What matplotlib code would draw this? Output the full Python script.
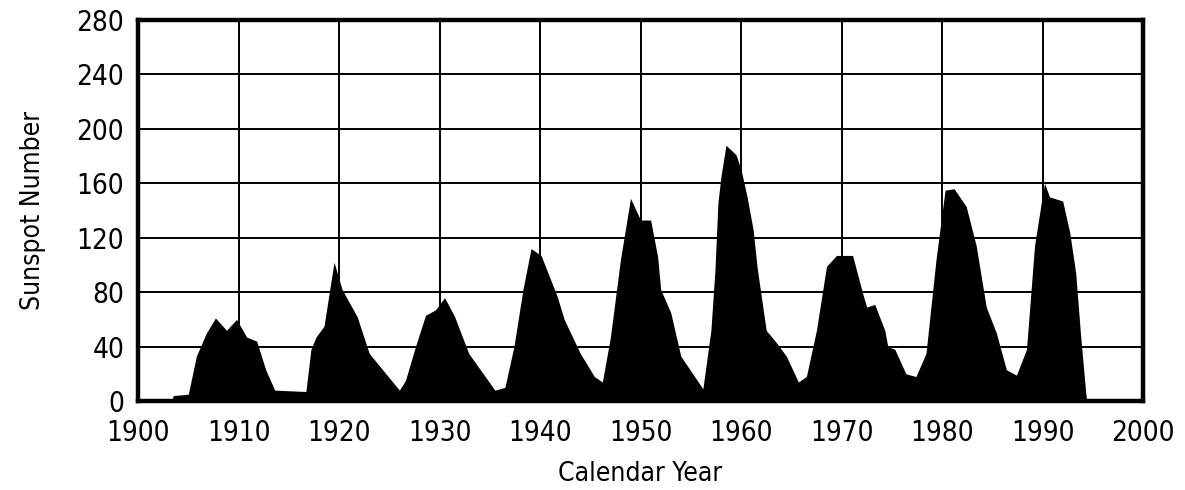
import matplotlib
matplotlib.use("Agg")
import matplotlib.pyplot as plt
from matplotlib import font_manager

years = [1900.0, 1903.4, 1903.5, 1905.0, 1905.8, 1906.8, 1907.7, 1908.8, 1909.8, 1910.8,
         1911.8, 1912.7, 1913.6, 1916.7, 1917.2, 1917.7, 1918.5, 1919.5, 1920.3, 1921.8,
         1923.0, 1926.0, 1926.6, 1927.6, 1928.6, 1929.6, 1930.5, 1931.5, 1932.9, 1935.5,
         1936.5, 1937.4, 1938.3, 1939.1, 1940.1, 1941.7, 1942.4, 1944.0, 1945.4, 1946.2,
         1947.0, 1948.0, 1949.0, 1950.0, 1951.0, 1951.7, 1952.0, 1953.0, 1954.0, 1956.2,
         1957.0, 1957.4, 1957.7, 1958.0, 1958.5, 1959.5, 1960.0, 1960.6, 1961.2, 1961.6,
         1962.5, 1963.5, 1964.5, 1965.7, 1966.5, 1967.5, 1968.5, 1969.5, 1971.1, 1972.1,
         1972.5, 1973.3, 1974.3, 1974.6, 1975.3, 1976.4, 1977.4, 1978.4, 1979.4, 1980.3,
         1981.2, 1982.4, 1983.4, 1984.4, 1985.4, 1986.4, 1987.4, 1988.4, 1989.2, 1989.9,
         1990.2, 1990.7, 1992.0, 1992.7, 1993.3, 1993.8, 1994.3, 1994.4]
sunspots = [1, 1, 4, 5, 33, 50, 61, 52, 60, 47,
            44, 23, 8, 7, 38, 47, 55, 102, 82, 62,
            35, 8, 15, 40, 63, 67, 76, 62, 35, 8,
            10, 40, 82, 112, 107, 77, 60, 35, 18, 14,
            47, 104, 149, 133, 133, 106, 82, 65, 33, 9,
            52, 96, 146, 165, 188, 181, 170, 150, 126, 98,
            52, 43, 33, 14, 18, 52, 99, 107, 107, 79,
            69, 71, 52, 40, 38, 20, 18, 35, 104, 155,
            156, 143, 114, 69, 50, 23, 19, 38, 114, 147,
            160, 150, 147, 124, 94, 47, 6, 0]

x_ticks = [1900, 1910, 1920, 1930, 1940, 1950, 1960, 1970, 1980, 1990, 2000]
y_ticks = [0, 40, 80, 120, 160, 200, 240, 280]

# look for a narrow / condensed sans font, else fall back
narrow = None
for f in font_manager.fontManager.ttflist:
    p = f.fname.lower()
    if ("narrow" in p or "condensed" in p) and "sans" in p and "bold" not in p \
            and "italic" not in p and "oblique" not in p and "mono" not in p \
            and "serif" not in p.replace("sans", ""):
        narrow = f.fname
        break

plt.rcParams["font.family"] = ["Liberation Sans", "DejaVu Sans"]
if narrow:
    fp_tick = font_manager.FontProperties(fname=narrow, size=20)
    fp_lab = font_manager.FontProperties(fname=narrow, size=19)
else:
    fp_tick = font_manager.FontProperties(family=["Liberation Sans", "DejaVu Sans"], size=18)
    fp_lab = font_manager.FontProperties(family=["Liberation Sans", "DejaVu Sans"], size=17)

fig = plt.figure(figsize=(11.85, 4.9), dpi=100)
ax = fig.add_axes([0.1165, 0.1816, 0.8481, 0.7775])
ax.fill_between(years, sunspots, 0, color="black", linewidth=0, zorder=3)
ax.set_xlim(1900, 2000)
ax.set_ylim(0, 280)
ax.set_xticks(x_ticks)
ax.set_yticks(y_ticks)
ax.grid(True, color="black", linewidth=1.4, zorder=1)
ax.set_axisbelow(True)
for s in ax.spines.values():
    s.set_linewidth(3.2)
    s.set_zorder(4)
ax.tick_params(axis="x", length=0, pad=13)
ax.tick_params(axis="y", length=0, pad=10)
for lab in ax.get_xticklabels() + ax.get_yticklabels():
    lab.set_fontproperties(fp_tick)
ax.set_xlabel("Calendar Year", fontproperties=fp_lab, labelpad=10)
ax.set_ylabel("Sunspot Number", fontproperties=fp_lab, labelpad=22)
fig.savefig("out.png", dpi=100)
